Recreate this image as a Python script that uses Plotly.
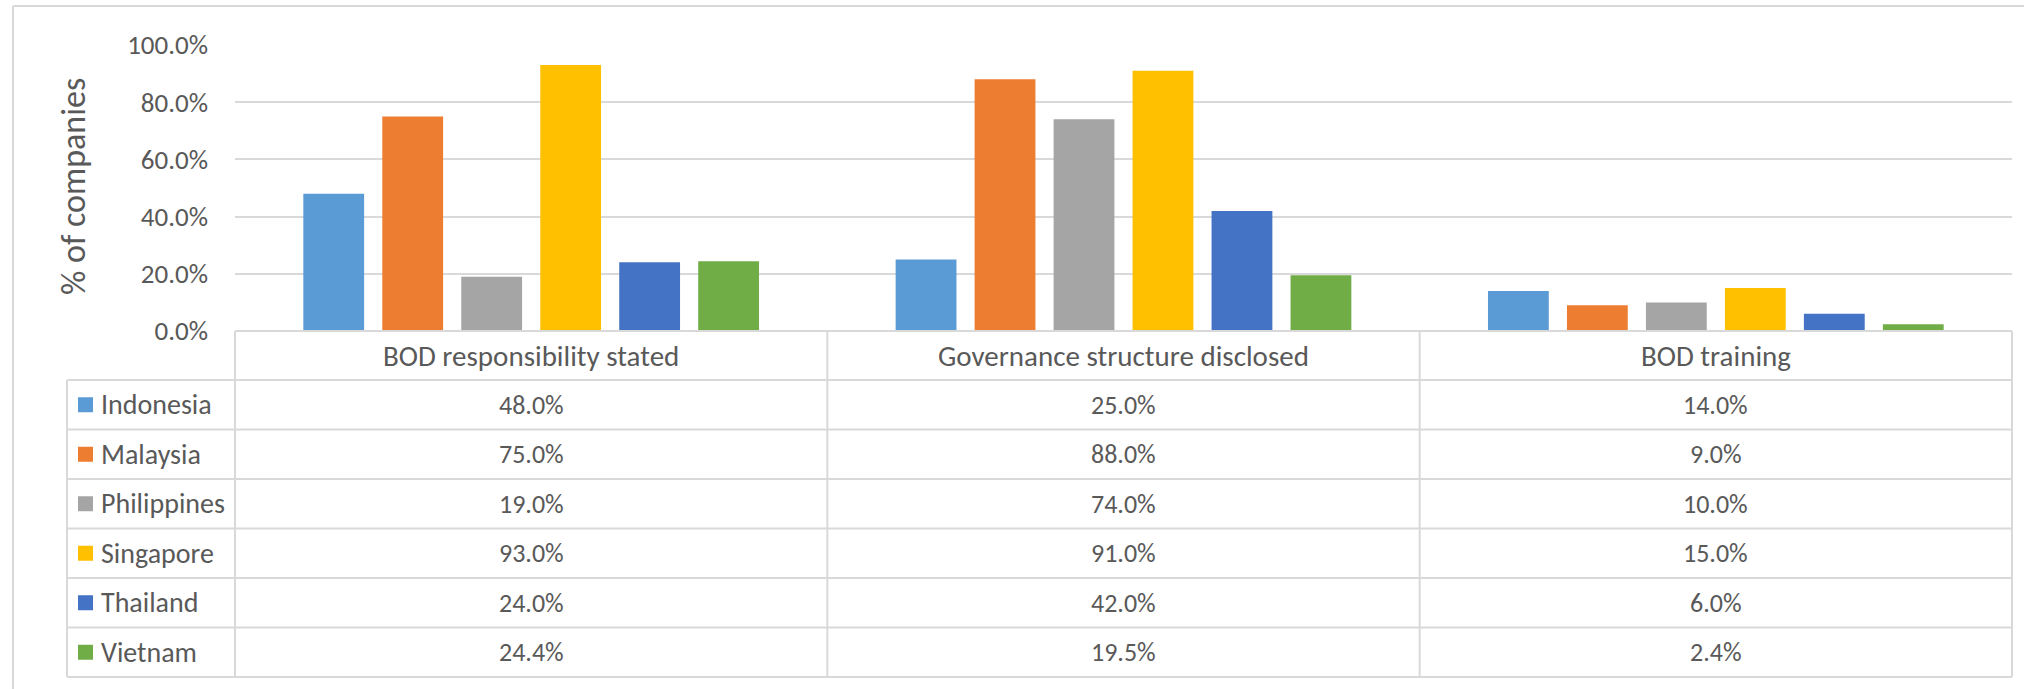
import plotly.graph_objects as go

# ---------------- data ----------------
categories = ["BOD responsibility stated", "Governance structure disclosed", "BOD training"]
countries = ["Indonesia", "Malaysia", "Philippines", "Singapore", "Thailand", "Vietnam"]
indonesia = [48.0, 25.0, 14.0]
malaysia = [75.0, 88.0, 9.0]
philippines = [19.0, 74.0, 10.0]
singapore = [93.0, 91.0, 15.0]
thailand = [24.0, 42.0, 6.0]
vietnam = [24.4, 19.5, 2.4]
series_values = [indonesia, malaysia, philippines, singapore, thailand, vietnam]
colors = ["#5B9BD5", "#ED7D31", "#A5A5A5", "#FFC000", "#4472C4", "#70AD47"]
y_ticks = [0, 20, 40, 60, 80, 100]
y_ticktext = [f"{v:.1f}%" for v in y_ticks]

# ---------------- layout geometry (pixels) ----------------
W, H = 2024, 689
L, R, T, B = 235, 12, 45, 358
PW = W - L - R
PH = H - T - B
FONT = "Calibri, Carlito, Lato, sans-serif"
TXT = "#595959"
LINE = "#D9D9D9"


def px(xp):
    return (xp - L) / PW


def py(yp):
    return (H - B - yp) / PH


fig = go.Figure()
x_idx = list(range(len(categories)))
for name, vals, col in zip(countries, series_values, colors):
    fig.add_trace(go.Bar(x=x_idx, y=vals, name=name, marker=dict(color=col, line=dict(width=0)),
                         showlegend=False))

shapes = []
annotations = []

# outer chart border (left and top)
shapes.append(dict(type="line", xref="paper", yref="paper", x0=px(13), x1=px(W + 5),
                   y0=py(6), y1=py(6), line=dict(color=LINE, width=2)))
shapes.append(dict(type="line", xref="paper", yref="paper", x0=px(13), x1=px(13),
                   y0=py(6), y1=py(H + 5), line=dict(color=LINE, width=2)))

# data table geometry
header_top = H - B
header_bot = 380
row_h = (677 - header_bot) / len(countries)
legend_left = 67

# horizontal lines
shapes.append(dict(type="line", xref="paper", yref="paper", x0=0, x1=1,
                   y0=py(header_top), y1=py(header_top), line=dict(color=LINE, width=2)))
for k in range(len(countries) + 1):
    yy = header_bot + k * row_h
    shapes.append(dict(type="line", xref="paper", yref="paper", x0=px(legend_left), x1=1,
                       y0=py(yy), y1=py(yy), line=dict(color=LINE, width=2)))
# vertical lines
shapes.append(dict(type="line", xref="paper", yref="paper", x0=px(legend_left), x1=px(legend_left),
                   y0=py(header_bot), y1=py(677), line=dict(color=LINE, width=2)))
for k in range(len(categories) + 1):
    xx = k / len(categories)
    shapes.append(dict(type="line", xref="paper", yref="paper", x0=xx, x1=xx,
                       y0=py(header_top), y1=py(677), line=dict(color=LINE, width=2)))

# header texts
for i, cat in enumerate(categories):
    annotations.append(dict(x=i, xref="x", y=py((header_top + header_bot) / 2), yref="paper",
                            text=cat, showarrow=False, xanchor="center", yanchor="middle",
                            font=dict(family=FONT, size=29, color=TXT)))

# rows: legend keys and values
for r, (name, vals, col) in enumerate(zip(countries, series_values, colors)):
    yc = header_bot + (r + 0.5) * row_h
    shapes.append(dict(type="rect", xref="paper", yref="paper", x0=px(78), x1=px(93),
                       y0=py(yc - 7.5), y1=py(yc + 7.5), fillcolor=col, line=dict(width=0)))
    annotations.append(dict(x=px(99), xref="paper", y=py(yc), yref="paper", text=name,
                            showarrow=False, xanchor="left", yanchor="middle",
                            font=dict(family=FONT, size=28, color=TXT)))
    for i, v in enumerate(vals):
        annotations.append(dict(x=i, xref="x", y=py(yc), yref="paper", text=f"{v:.1f}%",
                                showarrow=False, xanchor="center", yanchor="middle",
                                font=dict(family=FONT, size=26, color=TXT)))

# y-axis title
annotations.append(dict(x=px(73), xref="paper", y=py(187), yref="paper", text="% of companies",
                        textangle=-90, showarrow=False, xanchor="center", yanchor="middle",
                        font=dict(family=FONT, size=34, color=TXT)))

fig.update_layout(
    width=W, height=H,
    margin=dict(l=L, r=R, t=T, b=B, pad=0),
    paper_bgcolor="white", plot_bgcolor="white",
    barmode="group", bargap=0.2, bargroupgap=0.23,
    showlegend=False,
    shapes=shapes, annotations=annotations,
    xaxis=dict(range=[-0.5, len(categories) - 0.5], showticklabels=False, showgrid=False,
               zeroline=False, showline=False, ticks=""),
    yaxis=dict(range=[0, 100], tickmode="array", tickvals=y_ticks, ticktext=y_ticktext,
               showgrid=True, gridcolor=LINE, gridwidth=2, zeroline=False, showline=False,
               ticks="", ticklabelstandoff=26,
               tickfont=dict(family=FONT, size=27, color=TXT)),
    font=dict(family=FONT, color=TXT),
)

fig.write_html("out.html")
